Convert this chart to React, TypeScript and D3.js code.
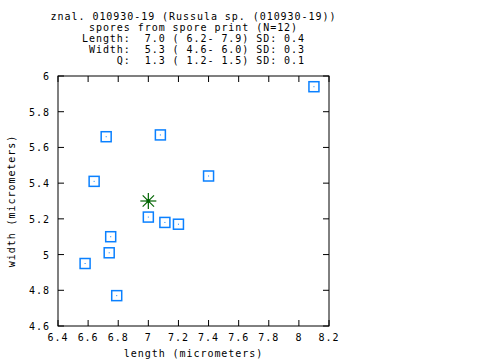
import React, { useEffect, useRef } from "react";
import * as d3 from "d3";

const lengths = [8.1, 6.72, 7.08, 6.64, 7.4, 7.0, 7.11, 7.2, 6.75, 6.74, 6.58, 6.79];
const widths = [5.94, 5.66, 5.67, 5.41, 5.44, 5.21, 5.18, 5.17, 5.1, 5.01, 4.95, 4.77];
const meanPoint = [7.0, 5.3];
const xTicks = [6.4, 6.6, 6.8, 7, 7.2, 7.4, 7.6, 7.8, 8, 8.2];
const yTicks = [4.6, 4.8, 5, 5.2, 5.4, 5.6, 5.8, 6];
const titleLines = [
  "znal. 010930-19 (Russula sp. (010930-19))",
  "spores from spore print (N=12)",
  "Length:  7.0 ( 6.2- 7.9) SD: 0.4",
  " Width:  5.3 ( 4.6- 6.0) SD: 0.3",
  "     Q:  1.3 ( 1.2- 1.5) SD: 0.1",
];

const FONT = "'DejaVu Sans Mono', monospace";
const FS = "10px";
const LS = "0.95px";

export default function App() {
  const ref = useRef<SVGSVGElement>(null);

  useEffect(() => {
    const svg = d3.select(ref.current);
    svg.selectAll("*").remove();

    const margin = { top: 76, right: 151, bottom: 34, left: 58 },
      W = 480, H = 360,
      w = W - margin.left - margin.right,
      h = H - margin.top - margin.bottom;

    const x = d3.scaleLinear().domain([6.4, 8.2]).range([0, w]);
    const y = d3.scaleLinear().domain([4.6, 6]).range([h, 0]);

    const txt = (sel: any) =>
      sel.style("font-family", FONT).style("font-size", FS).style("letter-spacing", LS);

    const g = svg.append("g").attr("transform", `translate(${margin.left},${margin.top})`);

    // title block
    svg.append("g")
      .selectAll("text")
      .data(titleLines)
      .join("text")
      .attr("x", margin.left + w / 2)
      .attr("y", (d, i) => 19.5 + i * 11.1)
      .attr("text-anchor", "middle")
      .attr("xml:space", "preserve")
      .style("white-space", "pre")
      .call(txt)
      .text(d => d);

    // ticks (inward, mirrored)
    const tl = 6;
    g.selectAll(".xt")
      .data(xTicks)
      .join("g")
      .each(function (d) {
        const t = d3.select(this);
        t.append("line").attr("x1", x(d)).attr("x2", x(d)).attr("y1", h).attr("y2", h - tl);
        t.append("line").attr("x1", x(d)).attr("x2", x(d)).attr("y1", 0).attr("y2", tl);
        t.append("text")
          .attr("x", x(d)).attr("y", h + 14.5)
          .attr("text-anchor", "middle")
          .call(txt)
          .text(d3.format("~g")(d));
      })
      .selectAll("line").attr("stroke", "black").attr("stroke-width", 1);

    g.selectAll(".yt")
      .data(yTicks)
      .join("g")
      .each(function (d) {
        const t = d3.select(this);
        t.append("line").attr("x1", 0).attr("x2", tl).attr("y1", y(d)).attr("y2", y(d));
        t.append("line").attr("x1", w).attr("x2", w - tl).attr("y1", y(d)).attr("y2", y(d));
        t.append("text")
          .attr("x", -8).attr("y", y(d) + 4)
          .attr("text-anchor", "end")
          .call(txt)
          .text(d3.format("~g")(d));
      })
      .selectAll("line").attr("stroke", "black").attr("stroke-width", 1);

    g.append("rect")
      .attr("x", 0).attr("y", 0).attr("width", w).attr("height", h)
      .attr("fill", "none").attr("stroke", "black").attr("stroke-width", 1);

    // axis labels
    svg.append("text")
      .attr("x", margin.left + w / 2).attr("y", H - 3)
      .attr("text-anchor", "middle")
      .call(txt)
      .text("length (micrometers)");

    svg.append("text")
      .attr("transform", `translate(15,${margin.top + h / 2}) rotate(-90)`)
      .attr("text-anchor", "middle")
      .call(txt)
      .text("width (micrometers)");

    // points
    const pts = lengths.map((l, i) => [l, widths[i]]);
    const pg = g.selectAll(".pt").data(pts).join("g")
      .attr("transform", d => `translate(${x(d[0])},${y(d[1])})`);
    pg.append("rect")
      .attr("x", -5).attr("y", -5).attr("width", 10).attr("height", 10)
      .attr("fill", "none").attr("stroke", "#0a80ff").attr("stroke-width", 1.5);
    pg.append("rect")
      .attr("x", -0.5).attr("y", -0.5).attr("width", 1).attr("height", 1)
      .attr("fill", "#0a80ff");

    // mean star
    const sg = g.append("g")
      .attr("transform", `translate(${x(meanPoint[0])},${y(meanPoint[1])})`);
    const r = 8;
    d3.range(4).forEach(k => {
      const a = (k * Math.PI) / 4;
      sg.append("line")
        .attr("x1", -r * Math.cos(a)).attr("y1", -r * Math.sin(a))
        .attr("x2", r * Math.cos(a)).attr("y2", r * Math.sin(a))
        .attr("stroke", "#006400").attr("stroke-width", 1.2);
    });
    sg.append("circle").attr("r", 2).attr("fill", "#006400");
  }, []);

  return (
    <svg
      ref={ref}
      width={480}
      height={360}
      style={{ position: "absolute", left: 0, top: 0, background: "white" }}
    ></svg>
  );
}
